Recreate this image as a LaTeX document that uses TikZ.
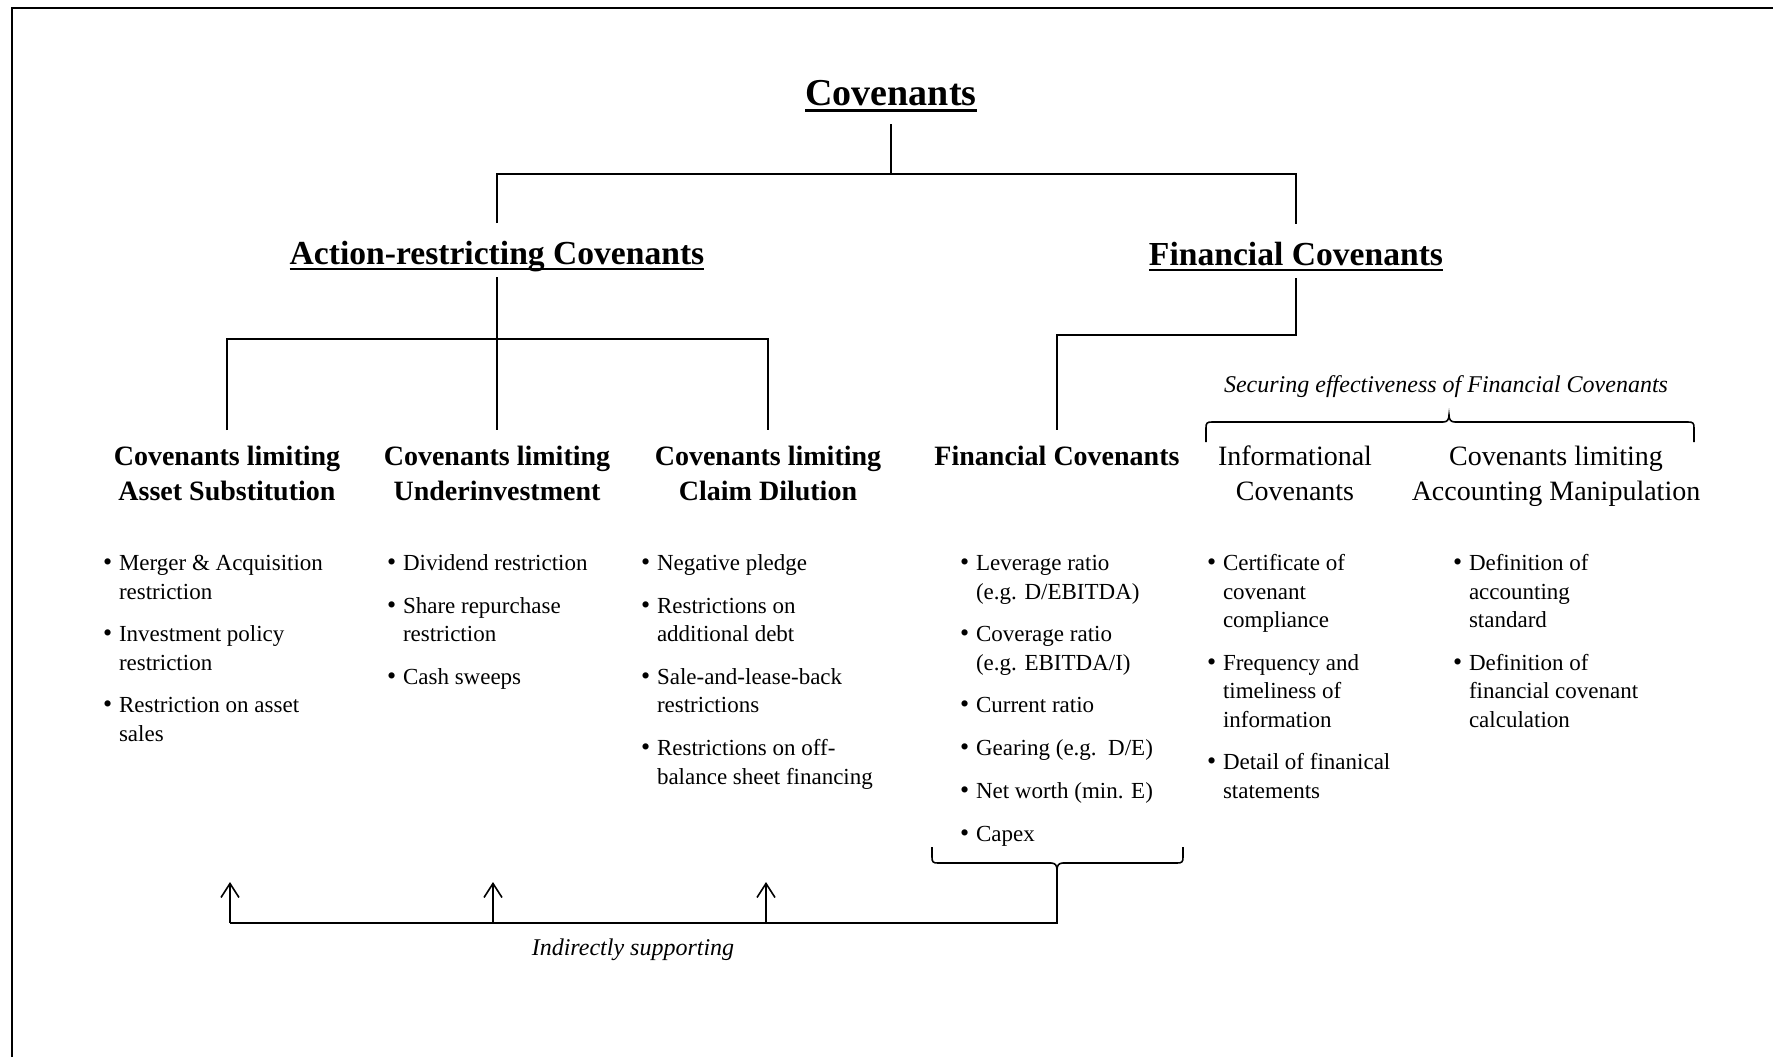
\documentclass[tikz,border=0pt]{standalone}
\usepackage{fontspec}
\setmainfont{Liberation Serif}
\usetikzlibrary{arrows.meta}

% bullet marker of fixed width for the item lists
\newcommand{\bu}{\makebox[8pt][l]{\fontsize{13}{14.25}\selectfont\textbullet}}
\newcommand{\gap}{\\[7.1pt]}

\begin{document}
\begin{tikzpicture}[x=0.5pt,y=-0.5pt,
  every node/.style={inner sep=0pt, outer sep=0pt},
  conn/.style={line width=0.8pt},
  frame/.style={line width=1.1pt},
  ulbar/.style={line width=1.3pt},
  ttl/.style={font=\fontsize{19}{22}\selectfont\bfseries, anchor=base},
  sub/.style={font=\fontsize{16.8}{20}\selectfont\bfseries, anchor=base},
  head/.style={font=\fontsize{14}{17.5}\selectfont\bfseries, anchor=base},
  headr/.style={font=\fontsize{14}{17.5}\selectfont, anchor=base},
  note/.style={font=\fontsize{12}{14}\selectfont\itshape, anchor=base},
  items/.style={font=\fontsize{11.5}{14.25}\selectfont, anchor=base west},
  brace/.style={line width=0.8pt},
  upar/.style={line width=0.8pt, -{Straight Barb[length=7pt,width=9pt]}}
]
\useasboundingbox (0,0) rectangle (1773,1057);

% outer frame
\draw[frame] (12,1057) -- (12,8) -- (1773,8);

% top levels
\node[ttl] (cov) at (891,105) {Covenants};
\draw[ulbar] ([yshift=-2.6pt]cov.base west) -- ([yshift=-2.6pt]cov.base east);

\node[sub] (arc) at (497,264) {Action-restricting Covenants};
\draw[ulbar] ([yshift=-2.4pt]arc.base west) -- ([yshift=-2.4pt]arc.base east);

\node[sub] (fin) at (1296,265) {Financial Covenants};
\draw[ulbar] ([yshift=-2.4pt]fin.base west) -- ([yshift=-2.4pt]fin.base east);

% third level headings
\node[head] (h1) at (227,465) {\begin{tabular}[t]{@{}c@{}}Covenants limiting\\Asset Substitution\end{tabular}};
\node[head] (h2) at (497,465) {\begin{tabular}[t]{@{}c@{}}Covenants limiting\\Underinvestment\end{tabular}};
\node[head] (h3) at (768,465) {\begin{tabular}[t]{@{}c@{}}Covenants limiting\\Claim Dilution\end{tabular}};
\node[head] (h4) at (1057,465) {\begin{tabular}[t]{@{}c@{}}Financial Covenants\end{tabular}};
\node[headr] (h5) at (1295,465) {\begin{tabular}[t]{@{}c@{}}Informational\\Covenants\end{tabular}};
\node[headr] (h6) at (1556,465) {\begin{tabular}[t]{@{}c@{}}Covenants limiting\\Accounting Manipulation\end{tabular}};

% tree connectors
\draw[conn] ([yshift=-9.5pt]cov.base) -- ++(0,-25pt) coordinate (j0);
\draw[conn] ([yshift=20.5pt]arc.base) |- (j0) -| ([yshift=20.5pt]fin.base);
\draw[conn] ([yshift=-6.5pt]arc.base) -- ([yshift=17.5pt]h2.base);
\path ([yshift=-6.5pt]arc.base) ++(0,-31pt) coordinate (j1);
\draw[conn] ([yshift=17.5pt]h1.base) |- (j1) -| ([yshift=17.5pt]h3.base);
\draw[conn] ([yshift=-6.5pt]fin.base) -- ++(0,-28.5pt) coordinate (j2) -| ([yshift=17.5pt]h4.base);

% brace over the supporting covenants
\node[note] (sec) at (1446,392) {Securing effectiveness of Financial Covenants};
\draw[brace] (1206,442) -- (1206,428) .. controls (1206,423) and (1207,422) .. (1212,422)
  -- (1443,422) .. controls (1447,422) and (1449,420) .. (1449,415)
  .. controls (1449,420) and (1451,422) .. (1455,422)
  -- (1688,422) .. controls (1693,422) and (1694,423) .. (1694,428) -- (1694,442);

% item lists
\node[items] (l1) at (103,570.5) {\begin{tabular}[t]{@{}l@{}l@{}}
\bu & Merger \& Acquisition\\
    & restriction\gap
\bu & Investment policy\\
    & restriction\gap
\bu & Restriction on asset\\
    & sales
\end{tabular}};

\node[items] (l2) at (387,570.5) {\begin{tabular}[t]{@{}l@{}l@{}}
\bu & Dividend restriction\gap
\bu & Share repurchase\\
    & restriction\gap
\bu & Cash sweeps
\end{tabular}};

\node[items] (l3) at (641,570.5) {\begin{tabular}[t]{@{}l@{}l@{}}
\bu & Negative pledge\gap
\bu & Restrictions on\\
    & additional debt\gap
\bu & Sale-and-lease-back\\
    & restrictions\gap
\bu & Restrictions on off-\\
    & balance sheet financing
\end{tabular}};

\node[items] (l4) at (960,570.5) {\begin{tabular}[t]{@{}l@{}l@{}}
\bu & Leverage ratio\\
    & (e.g. D/EBITDA)\gap
\bu & Coverage ratio\\
    & (e.g. EBITDA/I)\gap
\bu & Current ratio\gap
\bu & Gearing (e.g.\ \ D/E)\gap
\bu & Net worth (min. E)\gap
\bu & Capex
\end{tabular}};

\node[items] (l5) at (1207,570.5) {\begin{tabular}[t]{@{}l@{}l@{}}
\bu & Certificate of\\
    & covenant\\
    & compliance\gap
\bu & Frequency and\\
    & timeliness of\\
    & information\gap
\bu & Detail of finanical\\
    & statements
\end{tabular}};

\node[items] (l6) at (1453,570.5) {\begin{tabular}[t]{@{}l@{}l@{}}
\bu & Definition of\\
    & accounting\\
    & standard\gap
\bu & Definition of\\
    & financial covenant\\
    & calculation
\end{tabular}};

% brace under the financial covenant list and the support line
\coordinate (btip) at (1057,870);
\draw[brace] (932,847) -- (932,857) .. controls (932,862) and (933,863) .. (938,863)
  -- (1051,863) .. controls (1055,863) and (1057,865) .. (btip)
  .. controls (1057,865) and (1059,863) .. (1063,863)
  -- (1177,863) .. controls (1182,863) and (1183,862) .. (1183,857) -- (1183,847);

\coordinate (s1) at (230,923);
\coordinate (s2) at (493,923);
\coordinate (s3) at (766,923);
\draw[conn] (btip) |- (s1);
\draw[upar] (s1) -- ++(0,-41);
\draw[upar] (s2) -- ++(0,-41);
\draw[upar] (s3) -- ++(0,-41);

\node[note] (ind) at (633,955) {Indirectly supporting};
\end{tikzpicture}
\end{document}
